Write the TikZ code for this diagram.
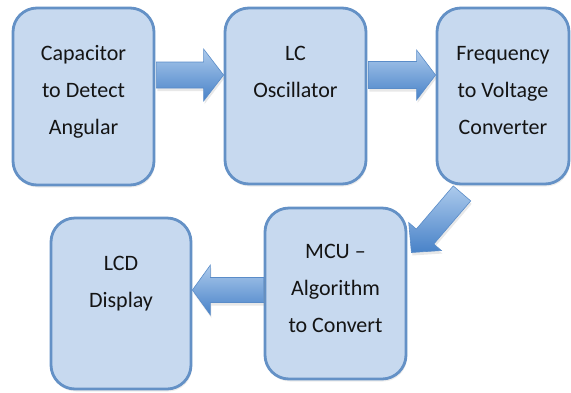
\documentclass[tikz,border=0pt]{standalone}
\usepackage{fontspec}
\setmainfont{Carlito}
\usetikzlibrary{calc,shadows}
\definecolor{boxfill}{RGB}{199,217,239}
\definecolor{boxline}{RGB}{100,145,198}
\definecolor{arrlight}{RGB}{172,202,236}
\definecolor{arrdark}{RGB}{72,130,200}
\definecolor{arrline}{RGB}{90,140,200}
\definecolor{txtcol}{RGB}{20,20,20}
\tikzset{
  box/.style={draw=boxline, line width=2.8pt, fill=boxfill, rounded corners=24pt,
    inner sep=0pt, drop shadow={shadow xshift=1pt, shadow yshift=-2.5pt, opacity=0.15}},
  txt/.style={align=center, inner sep=0pt, anchor=north, text=txtcol,
    font=\fontsize{22}{37}\selectfont},
  blockarrow/.style={draw=arrline, line width=0.6pt, top color=arrlight, bottom color=arrdark,
    drop shadow={shadow xshift=1pt, shadow yshift=-3pt, opacity=0.18}}
}
% from, to, shaft half width, head half width, head length
\newcommand{\blockarr}[5]{%
  \coordinate (hb) at ($(#2)!#5!(#1)$);
  \path[blockarrow] ($(#1)!#3!90:(#2)$) -- ($(hb)!#3!90:(#2)$) -- ($(hb)!#4!90:(#2)$)
    -- (#2) -- ($(hb)!#4!-90:(#2)$) -- ($(hb)!#3!-90:(#2)$) -- ($(#1)!#3!-90:(#2)$) -- cycle;}
\begin{document}
\begin{tikzpicture}[x=1pt,y=-1pt]
\useasboundingbox (0,0) rectangle (571,392);
% boxes
\node[box, minimum width=141pt, minimum height=177pt] (b1) at (83.5,96.5) {};
\node[box, minimum width=141pt, minimum height=176pt] (b2) at (295.5,96) {};
\node[box, minimum width=132pt, minimum height=176pt] (b3) at (503,96) {};
\node[box, minimum width=140pt, minimum height=171pt] (b4) at (121,303.5) {};
\node[box, minimum width=141pt, minimum height=171pt] (b5) at (335.5,293.5) {};
% texts
\node[txt] (t1) at ([yshift=-36pt]b1.north) {\rule{0pt}{18pt}Capacitor\\to Detect\\Angular};
\node[txt] (t2) at ([yshift=-36pt]b2.north) {\rule{0pt}{18pt}LC\\Oscillator};
\node[txt] (t3) at ([yshift=-36pt]b3.north) {\rule{0pt}{18pt}Frequency\\to Voltage\\Converter};
\node[txt] (t4) at ([yshift=-36pt]b4.north) {\rule{0pt}{18pt}LCD\\Display};
\node[txt] (t5) at ([yshift=-34pt]b5.north) {\rule{0pt}{18pt}MCU –\\Algorithm\\to Convert};
% arrows
\coordinate (a1s) at ([yshift=21.5pt,xshift=1pt]b1.east);
\coordinate (a1e) at (a1s -| b2.west);
\blockarr{a1s}{a1e}{13pt}{26pt}{20pt}
\coordinate (a2s) at ([yshift=21pt,xshift=1pt]b2.east);
\coordinate (a2e) at (a2s -| b3.west);
\blockarr{a2s}{a2e}{13.5pt}{25pt}{19pt}
\coordinate (a3s) at ([shift={(-41pt,-8pt)}]b3.south);
\coordinate (a3e) at ([shift={(4pt,41pt)}]b5.east);
\blockarr{a3s}{a3e}{11.5pt}{21.5pt}{21pt}
\coordinate (a4s) at ([yshift=3.5pt]b5.west);
\coordinate (a4e) at (a4s -| b4.east);
\blockarr{a4s}{a4e}{12.5pt}{25pt}{18pt}
\end{tikzpicture}
\end{document}
